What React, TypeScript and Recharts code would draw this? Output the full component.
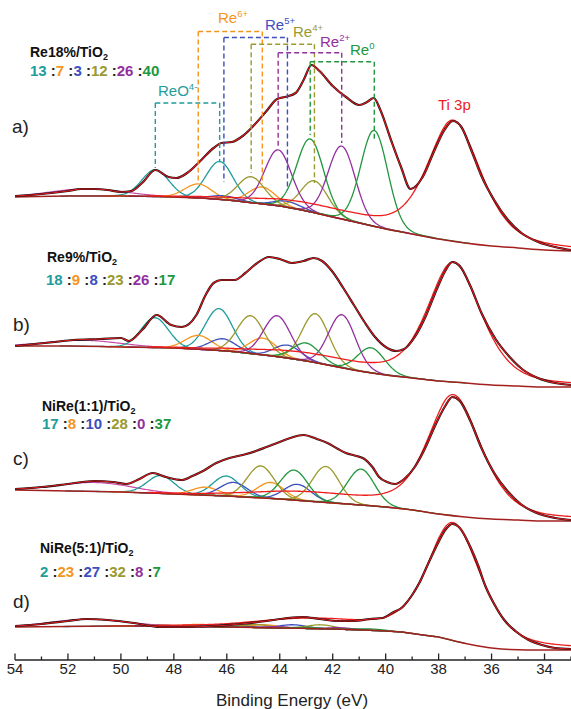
import React from "react";
import { LineChart, Line, XAxis, YAxis, ReferenceLine } from "recharts";

const W = 571;
const H = 709;
const PLOT_BOTTOM = 660;
const FONT = "'Liberation Sans', Arial, Helvetica, sans-serif";

// x axis (binding energy, eV)
const xTicks = [54, 53, 52, 51, 50, 49, 48, 47, 46, 45, 44, 43, 42, 41, 40, 39, 38, 37, 36, 35, 34, 33];

// Re species, in the order used by the ratio rows
const speciesNames = ["ReO", "Re", "Re", "Re", "Re", "Re"];
const speciesSup = ["4-", "6+", "5+", "4+", "2+", "0"];
const speciesColors = ["#1f9c9c", "#f7941d", "#3c4ec0", "#9a9a2e", "#93309f", "#21973e"];

const sampleNames = ["Re18%/TiO", "Re9%/TiO", "NiRe(1:1)/TiO", "NiRe(5:1)/TiO"];
const panelTags = ["a)", "b)", "c)", "d)"];
const ratiosA = [13, 7, 3, 12, 26, 40];
const ratiosB = [18, 9, 8, 23, 26, 17];
const ratiosC = [17, 8, 10, 28, 0, 37];
const ratiosD = [2, 23, 27, 32, 8, 7];

// vertical offset of each stacked spectrum (intensity units)
const panelOffsets = [409, 273, 139, 10];

// measured spectra [eV, intensity]
const specA = [
  [54, 55], [53, 57], [52, 60], [51.5, 62], [51, 62], [50.5, 61], [50, 59], [49.6, 60], [49.2, 68],
  [48.7, 81], [48.2, 74], [47.9, 73], [47.5, 78], [47, 90], [46.5, 103], [46.2, 108], [45.8, 109],
  [45.4, 115], [45, 125], [44.5, 140], [44.1, 152], [43.8, 154], [43.4, 158], [43.1, 171], [42.8, 186],
  [42.5, 180], [42, 165], [41.5, 154], [41, 146], [40.7, 149], [40.45, 153], [40.2, 141], [39.8, 111],
  [39.42, 84], [39.06, 62], [38.6, 74], [38.15, 101], [37.78, 121], [37.46, 130], [37.14, 124],
  [36.77, 101], [36.4, 76], [35.88, 50], [35.38, 31], [34.87, 18], [34.24, 9], [33.6, 4], [33, 1],
];
const specB = [
  [54, 41], [52.5, 45], [51.8, 47], [50.8, 48], [50, 49], [49.7, 46], [49.2, 57], [48.65, 72], [48.1, 62],
  [47.7, 60], [47.15, 72], [46.8, 92], [46.5, 104], [46.2, 107], [45.7, 107], [45.3, 114], [44.9, 123],
  [44.4, 130], [44, 128], [43.55, 124], [43.1, 126], [42.72, 129], [42.4, 126], [42, 115], [41.6, 99],
  [41.2, 82], [40.8, 65], [40.4, 50], [40, 40], [39.6, 36], [39.3, 38], [38.9, 50], [38.5, 70],
  [38.05, 99], [37.75, 116], [37.48, 125], [37.2, 121], [36.8, 101], [36.4, 75], [35.85, 48],
  [35.35, 31], [34.85, 18], [34.25, 9], [33.6, 4], [33, 2],
];
const specC = [
  [54, 32], [53, 34], [52, 37], [51, 40], [50.3, 39], [49.8, 37], [49.3, 42], [48.8, 48], [48.3, 44],
  [47.7, 41], [47.3, 45], [46.9, 50], [46.4, 58], [45.9, 63], [45.4, 66], [44.9, 70], [44.5, 74],
  [44.1, 78], [43.6, 83], [43.1, 86], [42.6, 82], [42.2, 78], [41.8, 72], [41.5, 68], [41.1, 65],
  [40.8, 62], [40.5, 54], [40.25, 44], [39.95, 39], [39.65, 37], [39.3, 42], [38.9, 54], [38.58, 69],
  [38.05, 100], [37.75, 115], [37.48, 124], [37.2, 120], [36.8, 100], [36.4, 74], [35.9, 48],
  [35.4, 30], [34.9, 17], [34.3, 8], [33.6, 3], [33, 1],
];
const specD = [
  [54, 24], [53, 26], [52, 29], [51.3, 31], [50.5, 30], [49.5, 27], [48.5, 23], [47.5, 23], [46.5, 24],
  [45.5, 26], [44.5, 29], [43.7, 32], [43.1, 33], [42.5, 31], [41.8, 29], [41.2, 29], [40.6, 31],
  [40.1, 32], [39.7, 38], [39.4, 42], [39, 55], [38.73, 67], [38.4, 86], [38.04, 106], [37.75, 120],
  [37.48, 126], [37.2, 122], [36.8, 103], [36.5, 84], [36.25, 65], [35.9, 46], [35.55, 31], [35.1, 19],
  [34.6, 10], [34.1, 5], [33.6, 2], [33, 1],
];

// backgrounds [eV, intensity]
const bgA = [
  [54, 54], [52, 55], [50, 55], [48, 54], [47, 53], [46, 51], [45, 48], [44, 45], [43, 40], [42, 34],
  [41, 28], [40, 22], [39, 17], [38, 12], [37, 8], [36, 5], [35, 3], [34, 1], [33, 0],
];
const bgB = [
  [54, 41], [52, 41], [50, 40], [48, 39], [46, 36], [44, 30], [43, 26], [42, 21], [41, 16], [40, 12],
  [39, 9], [38, 6], [37, 4], [36, 2], [35, 1], [34, 0], [33, 0],
];
const bgC = [
  [54, 31], [52, 30], [50, 29], [48, 27], [46, 25], [44, 22], [42, 18], [40, 14], [39, 11], [38, 7],
  [37, 4], [36, 2], [35, 1], [34, 0], [33, 0],
];
const bgD = [
  [54, 23], [50, 24], [48, 24], [46, 23], [44, 22], [42, 21], [40, 19], [39.4, 18], [38.6, 15], [38, 13],
  [37.4, 9], [36.7, 5], [36, 2], [35.3, 0.5], [34, 0], [33, 0],
];

// Re 4f7/2 and 4f5/2 fitted components, per species (eV, peak height)
const f72CentersA = [46.27, 44.66, 43.71, 42.69, 41.66, 40.43];
const f72HeightsA = [38, 17, 6, 32, 73, 96];
const f52CentersA = [48.7, 47.08, 46.11, 45.08, 44.06, 42.85];
const f52HeightsA = [27, 14, 4, 26, 56, 73];

const f72CentersB = [46.3, 44.64, 43.7, 42.65, 41.65, 40.55];
const f72HeightsB = [42, 17, 13, 49, 53, 25];
const f52CentersB = [48.72, 47.07, 46.16, 45.1, 44.1, 43.0];
const f52HeightsB = [30, 14, 12, 38, 41, 18];

const f72CentersC = [46.02, 44.34, 43.33, 42.26, 41.8, 40.93];
const f72HeightsC = [20, 16, 16, 36, 0, 36];
const f52CentersC = [48.5, 46.8, 45.74, 44.72, 44.2, 43.46];
const f52HeightsC = [18, 8, 14, 32, 0, 30];

const f72CentersD = [46.2, 44.6, 43.5, 42.45, 41.7, 40.6];
const f72HeightsD = [1, 3, 3.5, 4, 1.5, 1.5];
const f52CentersD = [48.6, 47.0, 45.9, 44.9, 44.1, 43.0];
const f52HeightsD = [0.7, 2.2, 2.6, 3, 1.2, 1.2];

// broad component near 51 eV, Ti 3p and its low shoulder
const satCenters = [51.3, 51.4, 51.0, 51.3];
const satHeights = [7, 6, 9, 7];
const shelfHeights = [6, 6, 7, 8];
const tiHeights = [121, 120, 121, 118];

const RE_FWHM = 1.2;
const SAT_FWHM = 3.3;
const SHELF_CENTER = 43.0;
const SHELF_FWHM = 4.5;
const TI_CENTER = 37.45;

const panelSpectra = [specA, specB, specC, specD];
const panelBgs = [bgA, bgB, bgC, bgD];
const panelRatios = [ratiosA, ratiosB, ratiosC, ratiosD];
const panelF72C = [f72CentersA, f72CentersB, f72CentersC, f72CentersD];
const panelF72H = [f72HeightsA, f72HeightsB, f72HeightsC, f72HeightsD];
const panelF52C = [f52CentersA, f52CentersB, f52CentersC, f52CentersD];
const panelF52H = [f52HeightsA, f52HeightsB, f52HeightsC, f52HeightsD];

// layout of the annotation (pixels)
const titlePos = [[30, 57], [47, 262], [42, 411], [40, 553]];
const ratioPos = [[30, 76], [46, 285], [42, 429], [40, 577]];
const tagPos = [[12, 133], [13, 331], [13, 465], [13, 608]];
const speciesLabelPos = [[158, 96], [218, 23], [265, 30], [293, 37], [320, 46.5], [350, 55]];
const bracketTopPx = [103, 31.5, 37.5, 44.3, 52.7, 61.7];
const bracketEndHiPx = [168, 181, 182, 173, 147, 135];
const bracketEndLoPx = [162, 184, 190, 183, 143, 140];

const LN2x4 = 4 * Math.LN2;
function pv(x: number, c: number, h: number, w: number, m: number) {
  const t = ((x - c) * (x - c)) / (w * w);
  return h * ((1 - m) * Math.exp(-LN2x4 * t) + m / (1 + 4 * t));
}
function tiShape(x: number, h: number) {
  return pv(x, TI_CENTER, h, x >= TI_CENTER ? 2.3 : 2.5, 0.5);
}
function bgAt(bg: number[][], x: number) {
  if (x >= bg[0][0]) return bg[0][1];
  for (let i = 0; i < bg.length - 1; i++) {
    const [x0, y0] = bg[i];
    const [x1, y1] = bg[i + 1];
    if (x <= x0 && x >= x1) return y0 + ((y1 - y0) * (x0 - x)) / (x0 - x1);
  }
  return bg[bg.length - 1][1];
}
function sample(hi: number, lo: number, f: (x: number) => number) {
  const out: { x: number; y: number }[] = [];
  const a = Math.min(54, hi);
  const b = Math.max(33, lo);
  for (let x = a; x >= b - 1e-9; x -= 0.05) out.push({ x: +x.toFixed(3), y: f(x) });
  return out;
}
const toSeries = (pts: number[][], off: number) => pts.map(([x, v]) => ({ x, y: off + v }));

function Tick(props: any) {
  const { x, payload } = props;
  const v = payload.value;
  const major = v % 2 === 0;
  return (
    <g>
      <line x1={x} x2={x} y1={PLOT_BOTTOM} y2={PLOT_BOTTOM - (major ? 6.5 : 3.5)} stroke="#222" strokeWidth={1.3} />
      {major && (
        <text x={x} y={PLOT_BOTTOM + 14} textAnchor="middle" fontSize={15} fontFamily={FONT} fill="#222">
          {v}
        </text>
      )}
    </g>
  );
}

export default function App() {
  const lines: React.ReactNode[] = [];

  panelSpectra.forEach((spec, p) => {
    const off = panelOffsets[p];
    const bg = panelBgs[p];
    const base = (x: number) => off + bgAt(bg, x);

    // broad component near 51 eV
    const sc = satCenters[p];
    lines.push(
      <Line key={`sat${p}`} data={sample(sc + 3 * SAT_FWHM, sc - 3 * SAT_FWHM, (x) => base(x) + pv(x, sc, satHeights[p], SAT_FWHM, 0))}
        dataKey="y" type="linear" stroke="#c94aa6" strokeWidth={1.2} dot={false} activeDot={false} isAnimationActive={false} />
    );

    // Re doublets
    speciesColors.forEach((col, s) => {
      const pairs = [
        [panelF52C[p][s], panelF52H[p][s]],
        [panelF72C[p][s], panelF72H[p][s]],
      ];
      pairs.forEach(([c, h], k) => {
        if (h <= 0) return;
        lines.push(
          <Line key={`re${p}-${s}-${k}`} data={sample(c + 3 * RE_FWHM, c - 3 * RE_FWHM, (x) => base(x) + pv(x, c, h, RE_FWHM, 0.05))}
            dataKey="y" type="linear" stroke={col} strokeWidth={1.3} dot={false} activeDot={false} isAnimationActive={false} />
        );
      });
    });

    // background
    lines.push(
      <Line key={`bg${p}`} data={toSeries(bg, off)} dataKey="y" type="monotone" stroke="#a3201f" strokeWidth={1.5}
        dot={false} activeDot={false} isAnimationActive={false} />
    );

    // Ti 3p
    lines.push(
      <Line key={`ti${p}`} data={sample(49, 33, (x) => base(x) + tiShape(x, tiHeights[p]) + pv(x, SHELF_CENTER, shelfHeights[p], SHELF_FWHM, 0))}
        dataKey="y" type="linear" stroke="#ee1c1c" strokeWidth={1.3} dot={false} activeDot={false} isAnimationActive={false} />
    );

    // measured data and envelope
    lines.push(
      <Line key={`data${p}`} data={toSeries(spec, off)} dataKey="y" type="monotone" stroke="#151515" strokeWidth={2.2}
        dot={false} activeDot={false} isAnimationActive={false} />
    );
    lines.push(
      <Line key={`fit${p}`} data={toSeries(spec, off)} dataKey="y" type="monotone" stroke="#e3171b" strokeWidth={1.1}
        dot={false} activeDot={false} isAnimationActive={false} />
    );
  });

  // dashed brackets over panel a
  const brackets: React.ReactNode[] = [];
  speciesColors.forEach((col, s) => {
    const hi = f52CentersA[s];
    const lo = f72CentersA[s];
    const top = PLOT_BOTTOM - bracketTopPx[s];
    const common = { stroke: col, strokeWidth: 1.4, strokeDasharray: "5 3", ifOverflow: "visible" as const };
    brackets.push(<ReferenceLine key={`bt${s}`} segment={[{ x: hi, y: top }, { x: lo, y: top }]} {...common} />);
    brackets.push(<ReferenceLine key={`bh${s}`} segment={[{ x: hi, y: top }, { x: hi, y: PLOT_BOTTOM - bracketEndHiPx[s] }]} {...common} />);
    brackets.push(<ReferenceLine key={`bl${s}`} segment={[{ x: lo, y: top }, { x: lo, y: PLOT_BOTTOM - bracketEndLoPx[s] }]} {...common} />);
  });

  return (
    <div style={{ position: "absolute", left: 0, top: 0, width: W, height: H, background: "#fff", overflow: "hidden" }}>
      <LineChart width={W} height={H} margin={{ top: 0, right: 0, bottom: 0, left: 15 }}>
        <XAxis dataKey="x" type="number" domain={[33, 54]} reversed allowDataOverflow ticks={xTicks} interval={0}
          height={49} tickLine={false} axisLine={{ stroke: "#222", strokeWidth: 1.5 }} tick={(p: any) => <Tick {...p} />} />
        <YAxis type="number" domain={[0, PLOT_BOTTOM]} hide width={0} allowDataOverflow />
        {lines}
        {brackets}
      </LineChart>
      <svg width={W} height={H} style={{ position: "absolute", left: 0, top: 0, pointerEvents: "none" }} fontFamily={FONT}>
        {sampleNames.map((n, p) => (
          <text key={`t${p}`} x={titlePos[p][0]} y={titlePos[p][1]} fontSize={14} fontWeight="bold" fill="#111">
            {n}
            <tspan fontSize={9} dy={3}>2</tspan>
          </text>
        ))}
        {panelRatios.map((r, p) => (
          <text key={`r${p}`} x={ratioPos[p][0]} y={ratioPos[p][1]} fontSize={15} fontWeight="bold">
            {r.map((v, k) => (
              <React.Fragment key={k}>
                {k > 0 && <tspan fill="#222">{" :"}</tspan>}
                <tspan fill={speciesColors[k]}>{v}</tspan>
              </React.Fragment>
            ))}
          </text>
        ))}
        {panelTags.map((t, p) => (
          <text key={`g${p}`} x={tagPos[p][0]} y={tagPos[p][1]} fontSize={19} fill="#222">{t}</text>
        ))}
        {speciesNames.map((n, s) => (
          <text key={`s${s}`} x={speciesLabelPos[s][0]} y={speciesLabelPos[s][1]} fontSize={15} fill={speciesColors[s]}>
            {n}
            <tspan fontSize={9.5} dy={-6}>{speciesSup[s]}</tspan>
          </text>
        ))}
        <text x={438} y={110} fontSize={15} fill="#ee1c1c">Ti 3p</text>
        <text x={292} y={706} fontSize={17} textAnchor="middle" fill="#222">Binding Energy (eV)</text>
      </svg>
    </div>
  );
}
